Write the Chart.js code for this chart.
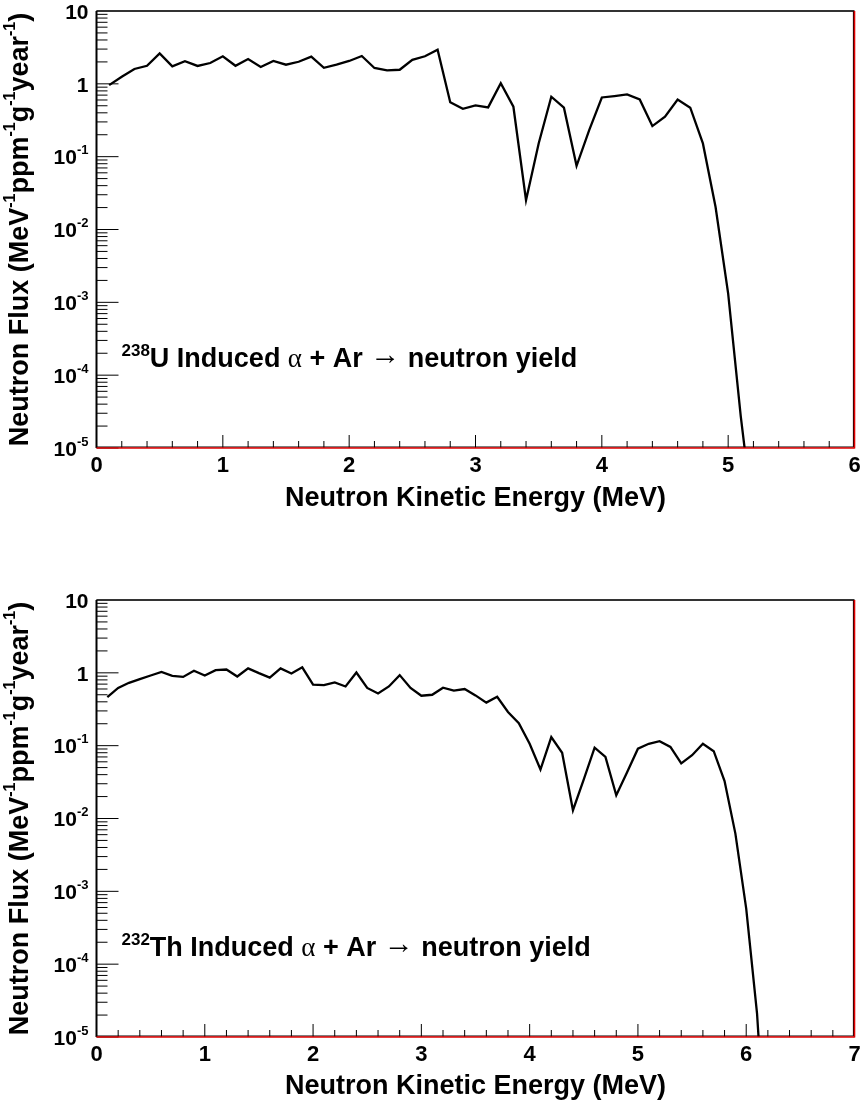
<!DOCTYPE html>
<html>
<head>
<meta charset="utf-8">
<script src="https://cdn.jsdelivr.net/npm/chart.js@4/dist/chart.umd.min.js"></script>
<style>
html, body { margin: 0; padding: 0; background: #fff; }
.panel { position: absolute; left: 0; width: 860px; height: 540px; }
</style>
</head>
<body>
<div class="panel" style="top:0px"><canvas id="uChart"></canvas></div>
<div class="panel" style="top:563px"><canvas id="thChart"></canvas></div>
<script>
// 238U induced spectrum, one point per 0.1 MeV bin
const uEnergy = [0.1, 0.2, 0.3, 0.4, 0.5, 0.6, 0.7, 0.8, 0.9, 1.0,
                 1.1, 1.2, 1.3, 1.4, 1.5, 1.6, 1.7, 1.8, 1.9, 2.0,
                 2.1, 2.2, 2.3, 2.4, 2.5, 2.6, 2.7, 2.8, 2.9, 3.0,
                 3.1, 3.2, 3.3, 3.4, 3.5, 3.6, 3.7, 3.8, 3.9, 4.0,
                 4.1, 4.2, 4.3, 4.4, 4.5, 4.6, 4.7, 4.8, 4.9, 5.0,
                 5.1, 5.2];
const uFlux = [0.96, 1.25, 1.6, 1.77, 2.62, 1.74, 2.04, 1.76, 1.93, 2.39,
               1.77, 2.19, 1.70, 2.06, 1.83, 2.01, 2.36, 1.66, 1.83, 2.06,
               2.41, 1.65, 1.53, 1.56, 2.14, 2.39, 2.94, 0.56, 0.455, 0.506,
               0.475, 1.02, 0.485, 0.0253, 0.152, 0.665, 0.47, 0.075, 0.232, 0.65,
               0.68, 0.716, 0.61, 0.263, 0.353, 0.61, 0.47, 0.152, 0.0205, 0.00132,
               2.7e-5, 1e-6];

// 232Th induced spectrum
const thEnergy = [0.1, 0.2, 0.3, 0.4, 0.5, 0.6, 0.7, 0.8, 0.9, 1.0,
                  1.1, 1.2, 1.3, 1.4, 1.5, 1.6, 1.7, 1.8, 1.9, 2.0,
                  2.1, 2.2, 2.3, 2.4, 2.5, 2.6, 2.7, 2.8, 2.9, 3.0,
                  3.1, 3.2, 3.3, 3.4, 3.5, 3.6, 3.7, 3.8, 3.9, 4.0,
                  4.1, 4.2, 4.3, 4.4, 4.5, 4.6, 4.7, 4.8, 4.9, 5.0,
                  5.1, 5.2, 5.3, 5.4, 5.5, 5.6, 5.7, 5.8, 5.9, 6.0,
                  6.1, 6.2];
const thFlux = [0.464, 0.62, 0.73, 0.82, 0.92, 1.03, 0.91, 0.88, 1.07, 0.92,
                1.09, 1.11, 0.89, 1.15, 0.99, 0.86, 1.15, 0.98, 1.19, 0.69,
                0.68, 0.74, 0.65, 1.01, 0.62, 0.52, 0.65, 0.93, 0.62, 0.485,
                0.50, 0.625, 0.57, 0.60, 0.49, 0.39, 0.47, 0.29, 0.204, 0.106,
                0.047, 0.131, 0.080, 0.0130, 0.0345, 0.094, 0.070, 0.0208, 0.043, 0.091,
                0.106, 0.115, 0.096, 0.057, 0.074, 0.106, 0.084, 0.0327, 0.0062, 5.8e-4,
                2.1e-5, 1e-7];

// y axis decade labels: base and exponent
const yDecades = [10, 1, 0.1, 0.01, 0.001, 0.0001, 0.00001];
const yBase = ['10', '1', '10', '10', '10', '10', '10'];
const yExp = ['', '', '-1', '-2', '-3', '-4', '-5'];

const FONT = "'Liberation Sans', Arial, Helvetica, sans-serif";

// draws a run of text pieces with different fonts / offsets (for superscripts)
function drawParts(ctx, parts, x, y, align) {
    let w = 0;
    parts.forEach(p => { ctx.font = p.font; p.w = ctx.measureText(p.text).width; w += p.w; });
    let cx = align === 'right' ? x - w : (align === 'center' ? x - w / 2 : x);
    ctx.textAlign = 'left';
    parts.forEach(p => {
        ctx.font = p.font;
        ctx.fillText(p.text, cx, y + (p.dy || 0));
        cx += p.w;
    });
}

function line(ctx, x1, y1, x2, y2) {
    ctx.beginPath();
    ctx.moveTo(x1, y1);
    ctx.lineTo(x2, y2);
    ctx.stroke();
}

// ROOT-like frame, inward ticks, superscript labels, annotation
const rootFrame = {
    id: 'rootFrame',
    afterDatasetsDraw(chart, args, opts) {
        const ctx = chart.ctx;
        const {left, right, top, bottom} = chart.chartArea;
        const xs = chart.scales.x, ys = chart.scales.y;
        ctx.save();
        ctx.fillStyle = '#000';

        // y ticks (major at decades, minor 2..9)
        ctx.strokeStyle = '#000';
        ctx.lineWidth = 1;
        for (let e = -5; e <= 1; e++) {
            const major = Math.pow(10, e);
            const py = ys.getPixelForValue(major);
            line(ctx, left, py, left + 22, py);
            if (e === 1) continue;
            for (let k = 2; k <= 9; k++) {
                const my = ys.getPixelForValue(k * major);
                line(ctx, left, my, left + 11, my);
            }
        }
        // x ticks (major at integers, minor every 0.2)
        for (let i = 0; i <= xs.max * 5; i++) {
            const px = xs.getPixelForValue(i / 5);
            const len = i % 5 === 0 ? 13 : 7;
            line(ctx, px, bottom, px, bottom - len);
        }

        // frame
        ctx.lineWidth = 2;
        ctx.strokeStyle = '#333';
        line(ctx, left, top, right, top);
        ctx.strokeStyle = '#000';
        line(ctx, left, top, left, bottom);
        ctx.lineWidth = 1.2;
        line(ctx, right - 1, top, right - 1, bottom - 1);
        line(ctx, left, bottom - 1, right, bottom - 1);
        ctx.lineWidth = 1.6;
        ctx.strokeStyle = '#e00000';
        line(ctx, right, top, right, bottom + 0.5);
        line(ctx, left, bottom, right, bottom);

        // y tick labels
        ctx.textBaseline = 'middle';
        yDecades.forEach((v, i) => {
            const py = ys.getPixelForValue(v) + 2;
            const parts = [{text: yBase[i], font: 'bold 21px ' + FONT}];
            if (yExp[i]) parts.push({text: yExp[i], font: 'bold 13px ' + FONT, dy: -8});
            drawParts(ctx, parts, left - 8, py, 'right');
        });

        // y title (rotated)
        const sup = {font: 'bold 16px ' + FONT, dy: -10};
        const big = 'bold 27px ' + FONT;
        ctx.save();
        ctx.translate(21, (top + bottom) / 2);
        ctx.rotate(-Math.PI / 2);
        ctx.textBaseline = 'middle';
        drawParts(ctx, [
            {text: 'Neutron Flux (MeV', font: big},
            {text: '-1', font: sup.font, dy: sup.dy},
            {text: 'ppm', font: big},
            {text: '-1', font: sup.font, dy: sup.dy},
            {text: 'g', font: big},
            {text: '-1', font: sup.font, dy: sup.dy},
            {text: 'year', font: big},
            {text: '-1', font: sup.font, dy: sup.dy},
            {text: ')', font: big}
        ], 0, 0, 'center');
        ctx.restore();

        // annotation
        ctx.textBaseline = 'alphabetic';
        drawParts(ctx, [
            {text: opts.mass, font: 'bold 17px ' + FONT, dy: -11},
            {text: opts.element + ' Induced ', font: big},
            {text: 'α', font: "27px 'Liberation Serif', 'DejaVu Serif', serif"},
            {text: ' + Ar ', font: big},
            {text: '→', font: "30px 'Liberation Serif', 'DejaVu Serif', serif", dy: -3},
            {text: ' neutron yield', font: big}
        ], left + 25, top + 355.5, 'left');

        ctx.restore();
    }
};

function makeChart(id, energy, flux, xMax, mass, element, padTop, titlePad) {
    const points = energy.map((e, i) => ({x: e, y: flux[i]}));
    return new Chart(document.getElementById(id), {
        type: 'line',
        data: {
            datasets: [{
                data: points,
                borderColor: '#000',
                borderWidth: 2.3,
                pointRadius: 0,
                tension: 0,
                fill: false,
                clip: 0
            }]
        },
        options: {
            responsive: true,
            maintainAspectRatio: false,
            animation: false,
            layout: { padding: { left: 96.5, right: 5.5, top: padTop, bottom: 0 } },
            plugins: {
                legend: { display: false },
                tooltip: { enabled: false },
                rootFrame: { mass: mass, element: element }
            },
            scales: {
                x: {
                    type: 'linear',
                    min: 0,
                    max: xMax,
                    grid: { display: false, drawTicks: false },
                    border: { display: false },
                    ticks: {
                        stepSize: 1,
                        maxRotation: 0,
                        autoSkip: false,
                        padding: 7,
                        color: '#000',
                        font: { family: FONT, size: 22, weight: 'bold', lineHeight: 1 }
                    },
                    title: {
                        display: true,
                        text: 'Neutron Kinetic Energy (MeV)',
                        color: '#000',
                        font: { family: FONT, size: 27, weight: 'bold', lineHeight: 1 },
                        padding: { top: 0, bottom: titlePad }
                    },
                    afterFit: (scale) => {
                        scale.height = 540 - padTop - 437;
                        scale.paddingLeft = 0;
                        scale.paddingRight = 0;
                    }
                },
                y: {
                    type: 'logarithmic',
                    display: false,
                    min: 1e-5,
                    max: 10
                }
            }
        },
        plugins: [rootFrame]
    });
}

makeChart('uChart', uEnergy, uFlux, 6, '238', 'U', 11, 27.5);
makeChart('thChart', thEnergy, thFlux, 7, '232', 'Th', 37, 2.5);
</script>
</body>
</html>
